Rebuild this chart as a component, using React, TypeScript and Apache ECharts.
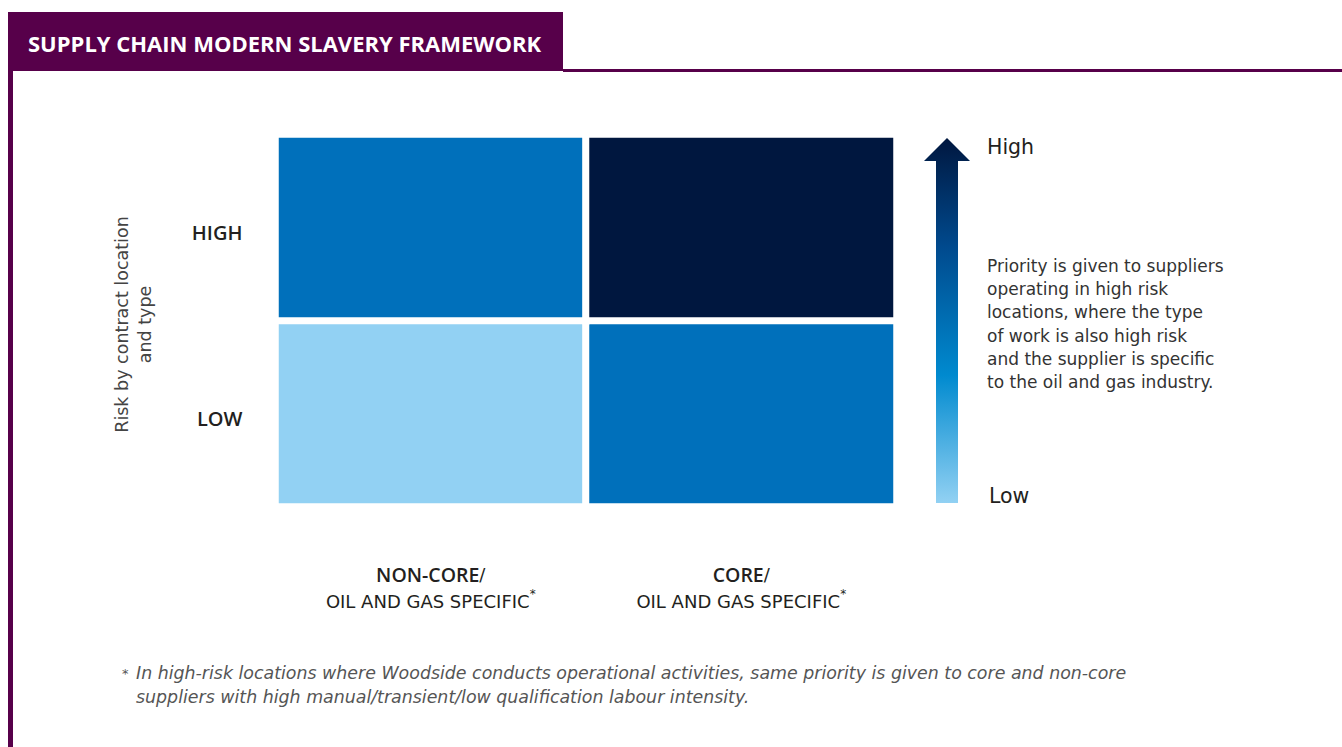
import React, { useEffect, useRef } from "react";
import * as echarts from "echarts";

const TITLE = "SUPPLY CHAIN MODERN SLAVERY FRAMEWORK";
const xCategories = ["NON-CORE", "CORE"];
const xSubLabel = "OIL AND GAS SPECIFIC";
const yCategories = ["LOW", "HIGH"];
const yAxisName = "Risk by contract location\nand type";
// [xIndex, yIndex, priority level]
const priorityCells: [number, number, number][] = [
  [0, 0, 1],
  [1, 0, 2],
  [0, 1, 2],
  [1, 1, 3],
];
const levelColors = ["#92D1F3", "#0070BB", "#00173F"];
const arrowTop = "High";
const arrowBottom = "Low";
const descriptionLines = [
  "Priority is given to suppliers",
  "operating in high risk",
  "locations, where the type",
  "of work is also high risk",
  "and the supplier is specific",
  "to the oil and gas industry.",
];
const footnoteLines = [
  "In high-risk locations where Woodside conducts operational activities, same priority is given to core and non-core",
  "suppliers with high manual/transient/low qualification labour intensity.",
];

const FONT = "'Open Sans', 'Noto Sans', sans-serif";
const WIDE = "'DejaVu Sans', 'Open Sans', sans-serif";
const PURPLE = "#57004A";
const DARK = "#231F20";

export default function App() {
  const ref = useRef<HTMLDivElement>(null);
  useEffect(() => {
    document.body.style.margin = "0";
    if (!ref.current) return;
    const chart = echarts.init(ref.current, null, { renderer: "svg" });
    const option: any = {
      animation: false,
      backgroundColor: "#ffffff",
      textStyle: { fontFamily: WIDE },
      grid: { left: 275.5, right: 445.5, top: 134.5, bottom: 240.5 },
      xAxis: {
        type: "category",
        data: xCategories,
        axisLine: { show: false },
        axisTick: { show: false },
        splitLine: { show: false },
        axisLabel: {
          margin: 54,
          interval: 0,
          formatter: (v: string) => `{b|${v}}{r|/}\n{r|${xSubLabel}}{s|*}`,
          rich: {
            b: { fontFamily: FONT, fontSize: 19.5, fontWeight: 600, color: DARK, lineHeight: 27 },
            r: { fontFamily: WIDE, fontSize: 18, fontWeight: 400, color: DARK, lineHeight: 27 },
            s: { fontFamily: WIDE, fontSize: 12, color: DARK, lineHeight: 27, verticalAlign: "top" },
          },
        },
      },
      yAxis: {
        type: "category",
        data: yCategories,
        axisLine: { show: false },
        axisTick: { show: false },
        splitLine: { show: false },
        axisLabel: {
          margin: 33,
          fontFamily: FONT,
          fontSize: 20,
          fontWeight: 600,
          color: DARK,
          verticalAlign: "top",
          lineHeight: 9,
        },
        name: yAxisName,
        nameLocation: "middle",
        nameGap: 119,
        nameRotate: 90,
        nameTextStyle: {
          fontFamily: WIDE,
          fontSize: 17.5,
          color: "#444444",
          lineHeight: 23,
          padding: [0, 8, 0, 0],
        },
      },
      visualMap: {
        type: "piecewise",
        show: false,
        dimension: 2,
        pieces: levelColors.map((c, i) => ({ value: i + 1, color: c })),
      },
      series: [
        {
          type: "heatmap",
          data: priorityCells,
          itemStyle: { borderColor: "#ffffff", borderWidth: 7 },
          emphasis: { disabled: true },
          label: { show: false },
        },
      ],
      graphic: [
        // header block
        { type: "rect", shape: { x: 8, y: 12, width: 555, height: 59 }, style: { fill: PURPLE }, silent: true },
        { type: "rect", shape: { x: 563, y: 69, width: 779, height: 3 }, style: { fill: PURPLE }, silent: true },
        { type: "rect", shape: { x: 8, y: 70, width: 5, height: 677 }, style: { fill: PURPLE }, silent: true },
        {
          type: "text",
          x: 28,
          y: 43,
          style: {
            text: TITLE,
            fill: "#ffffff",
            font: `bold 22px ${FONT}`,
            textVerticalAlign: "middle",
          },
          silent: true,
        },
        // priority arrow
        {
          type: "polygon",
          shape: {
            points: [
              [947, 138],
              [970, 161],
              [958, 161],
              [958, 503],
              [936, 503],
              [936, 161],
              [924, 161],
            ],
          },
          style: {
            fill: new echarts.graphic.LinearGradient(0, 0, 0, 1, [
              { offset: 0, color: "#00173F" },
              { offset: 0.3, color: "#004A8E" },
              { offset: 0.65, color: "#008ACF" },
              { offset: 1, color: "#92D1F3" },
            ]),
          },
          silent: true,
        },
        {
          type: "text",
          x: 987,
          y: 147,
          style: { text: arrowTop, fill: DARK, font: `20.5px ${WIDE}`, textVerticalAlign: "middle" },
          silent: true,
        },
        {
          type: "text",
          x: 989,
          y: 496,
          style: { text: arrowBottom, fill: DARK, font: `20.5px ${WIDE}`, textVerticalAlign: "middle" },
          silent: true,
        },
        {
          type: "text",
          x: 987,
          y: 254,
          style: {
            text: descriptionLines.join("\n"),
            fill: "#333333",
            font: `17px ${WIDE}`,
            lineHeight: 23.3,
          },
          silent: true,
        },
        // footnote
        {
          type: "text",
          x: 122,
          y: 667,
          style: { text: "*", fill: "#555555", font: `13px ${WIDE}` },
          silent: true,
        },
        {
          type: "text",
          x: 136,
          y: 661,
          style: {
            text: footnoteLines.join("\n"),
            fill: "#555555",
            font: `italic 17.4px ${WIDE}`,
            lineHeight: 24,
          },
          silent: true,
        },
      ],
    };
    chart.setOption(option);
    return () => chart.dispose();
  }, []);
  return (
    <div
      ref={ref}
      style={{ position: "absolute", left: 0, top: 0, width: 1342, height: 747 }}
    />
  );
}
